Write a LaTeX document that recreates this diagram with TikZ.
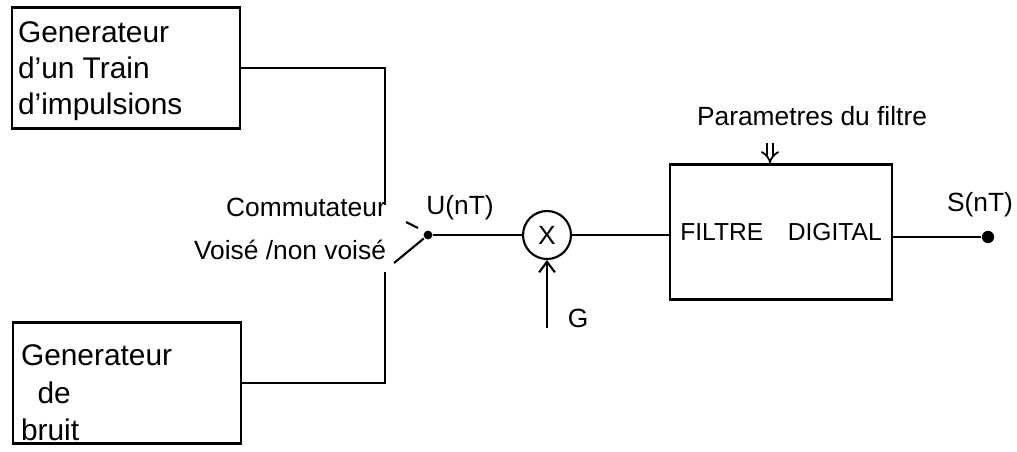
\documentclass[tikz,border=0pt]{standalone}
\usepackage{fontspec}
\setmainfont{Liberation Sans}
\usetikzlibrary{arrows.meta, calc}

\begin{document}
\begin{tikzpicture}[x=0.02cm, y=-0.02cm, line width=1.2pt,
    genbox/.style={draw, minimum width=4.56cm, minimum height=2.42cm},
    gentext/.style={anchor=north west, align=left, inner sep=0pt,
        font=\fontsize{17}{20.5}\selectfont},
    label text/.style={font=\fontsize{15}{17}\selectfont},
    contact/.style={circle, fill, inner sep=0pt, minimum size=5pt}]
    \useasboundingbox (0,0) rectangle (1017,452);
    % generateurs
    \node[genbox] (train) at (126,68) {};
    \node[gentext] (traintxt) at ($(train.north west)+(6,14)$) {Generateur\\d'un Train\\d'impulsions};
    \node[genbox] (bruit) at (127,383) {};
    \node[gentext, font=\fontsize{17}{21.5}\selectfont] (bruittxt)
        at ($(bruit.north west)+(8,22)$) {Generateur\\\ \ de\\bruit};
    % commutateur voise / non voise
    \coordinate (cup) at (385,205);
    \coordinate (clow) at (385,272);
    \node[contact] (pivot) at (428,235) {};
    \coordinate (lever) at (394,263);
    \draw (train.east) -| (cup);
    \draw (bruit.east) -| (clow);
    \draw (pivot) -- (lever);
    \draw (406,222) -- (418,228);
    \node[label text] (com) at (306,207) {Commutateur};
    \node[label text] (voise) at (290,250) {Voisé /non voisé};
    \node[label text] (unt) at (460,208) {U(nT)};
    % multiplicateur et filtre
    \node[draw, circle, minimum size=0.96cm, inner sep=0pt,
        font=\fontsize{15}{17}\selectfont] (mult) at (547,235) {X};
    \node[draw, minimum width=4.44cm, minimum height=2.7cm,
        font=\fontsize{14}{16}\selectfont] (filtre) at (781,232) {FILTRE\quad DIGITAL};
    \node[contact, minimum size=7pt] (sortie) at (988,237) {};
    \node[label text] (snt) at (980,205) {S(nT)};
    \coordinate (gain) at (547,328);
    \node[label text] (glab) at (578,318) {G};
    \node[label text] (param) at (812,116) {Parametres du filtre};
    \coordinate (ptop) at (770,143);
    \draw (pivot) -- (mult);
    \draw (mult) -- (filtre.west |- mult);
    \draw (filtre.east |- sortie) -- (sortie);
    \draw[-{Straight Barb[length=6pt, width=9pt]}] (gain) -- (mult.south);
    \draw[double, double distance=2.5pt, line width=1pt, -{Implies[length=6pt]}] (ptop) -- (ptop |- filtre.north);
\end{tikzpicture}
\end{document}
